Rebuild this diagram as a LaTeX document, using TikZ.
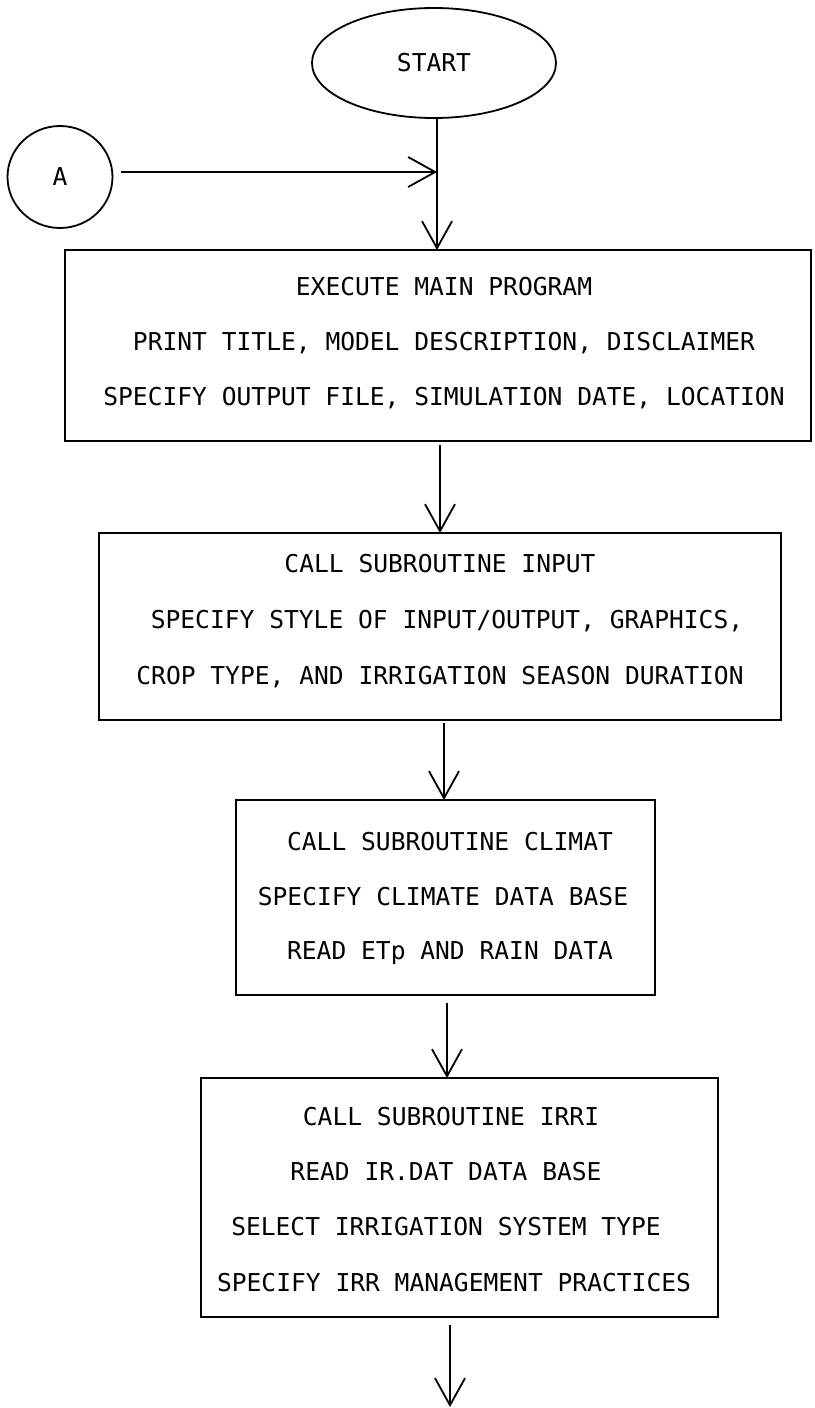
\documentclass[tikz,border=0pt]{standalone}
\usepackage{fontspec}
\newfontfamily\typewriter{DejaVu Sans Mono}
\usetikzlibrary{shapes.geometric,arrows.meta}
\begin{document}
\begin{tikzpicture}[x=1pt,y=-1pt,
  line width=1.8pt,
  box/.style={draw, rectangle, inner sep=0pt, outer sep=0pt},
  oval/.style={draw, ellipse, inner sep=0pt, outer sep=0pt,
    font=\typewriter\fontsize{24.6}{24.6}\selectfont},
  txt/.style={anchor=base, inner sep=0pt,
    font=\typewriter\fontsize{24.6}{24.6}\selectfont},
  arr/.style={-{Straight Barb[length=27pt,width=30pt]}},
]
\useasboundingbox (0,0) rectangle (814,1408);

% terminals
\node[oval, minimum width=244pt, minimum height=110pt] (start) at (434,63) {START};
\node[oval, minimum width=105pt, minimum height=102pt] (A) at (60,177) {A};

% boxes
\node[box, minimum width=746pt, minimum height=191pt] (b1) at (438,345.5) {};
\node[box, minimum width=682pt, minimum height=187pt] (b2) at (440,626.5) {};
\node[box, minimum width=419pt, minimum height=195pt] (b3) at (445.5,897.5) {};
\node[box, minimum width=517pt, minimum height=239pt] (b4) at (459.5,1197.5) {};

% texts
\node[txt] (t11) at (444,295) {EXECUTE MAIN PROGRAM};
\node[txt] (t12) at (444,350) {PRINT TITLE, MODEL DESCRIPTION, DISCLAIMER};
\node[txt] (t13) at (444,405) {SPECIFY OUTPUT FILE, SIMULATION DATE, LOCATION};

\node[txt] (t21) at (440,572) {CALL SUBROUTINE INPUT};
\node[txt] (t22) at (447,628) {SPECIFY STYLE OF INPUT/OUTPUT, GRAPHICS,};
\node[txt] (t23) at (440,684) {CROP TYPE, AND IRRIGATION SEASON DURATION};

\node[txt] (t31) at (450,850) {CALL SUBROUTINE CLIMAT};
\node[txt] (t32) at (443,905) {SPECIFY CLIMATE DATA BASE};
\node[txt] (t33) at (450,959) {READ ETp AND RAIN DATA};

\node[txt] (t41) at (451,1125) {CALL SUBROUTINE IRRI};
\node[txt] (t42) at (446,1180) {READ IR.DAT DATA BASE};
\node[txt] (t43) at (446,1235) {SELECT IRRIGATION SYSTEM TYPE};
\node[txt] (t44) at (454,1291) {SPECIFY IRR MANAGEMENT PRACTICES};

% connector guide coordinates
\coordinate (j) at (437,172);
\coordinate (c2) at (440,0);
\coordinate (c3) at (444,0);
\coordinate (c4) at (447,0);
\coordinate (c5) at (450,0);
\coordinate (fin) at (450,1407);

% connectors
\draw[arr] ([shift={(8pt,5pt)}]A.east) -- (j);
\draw[arr] (start.south -| j) -- (b1.north -| j);
\draw[arr] ([yshift=-4pt]b1.south -| c2) -- (b2.north -| c2);
\draw[arr] ([yshift=-3pt]b2.south -| c3) -- (b3.north -| c3);
\draw[arr] ([yshift=-8pt]b3.south -| c4) -- (b4.north -| c4);
\draw[arr] ([yshift=-8pt]b4.south -| c5) -- (fin);
\end{tikzpicture}
\end{document}
